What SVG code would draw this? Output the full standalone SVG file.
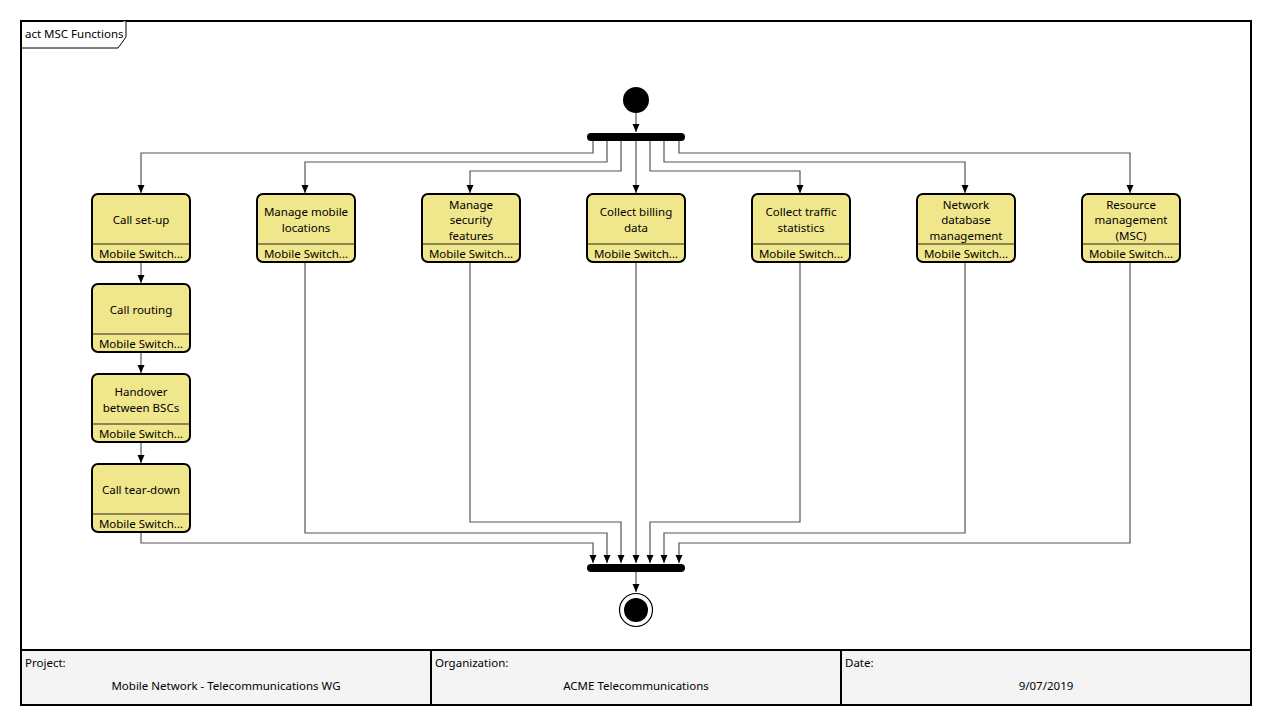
<svg xmlns="http://www.w3.org/2000/svg" width="1272" height="725" viewBox="0 0 1272 725">
  <style>
    text { font-family: "Noto Sans", "Open Sans", sans-serif; font-size: 11.5px; fill: #000; }
    .c { text-anchor: middle; }
    .node rect.box { fill: #f0e68c; stroke: #000; stroke-width: 2; }
    .node line { stroke: #6b6440; stroke-width: 1.5; }
    .edge { fill: none; stroke: #555; stroke-width: 1.2; }
    .bar { fill: #000; }
    .frame { fill: none; stroke: #000; stroke-width: 2; }
    .foot { fill: #f4f4f4; stroke: #000; stroke-width: 2; }
  </style>
  <defs>
    <marker id="arrow" viewBox="0 0 8 8" refX="8" refY="4" markerWidth="8" markerHeight="8" markerUnits="userSpaceOnUse" orient="auto">
      <path d="M0,0.5 L8,4 L0,7.5 Z" fill="#000"/>
    </marker>
  </defs>

  <rect width="1272" height="725" fill="#fff"/>

  <!-- diagram frame -->
  <rect class="frame" x="21" y="21" width="1230" height="684"/>
  <path d="M21,48 L118,48 L126,37 L126,21" fill="#fff" stroke="#000" stroke-width="1"/>
  <text x="25" y="38">act MSC Functions</text>

  <!-- footer -->
  <g id="footer">
    <rect class="foot" x="21" y="650" width="410" height="55"/>
    <rect class="foot" x="431" y="650" width="410" height="55"/>
    <rect class="foot" x="841" y="650" width="410" height="55"/>
    <text x="25" y="667">Project:</text>
    <text class="c" x="226" y="690">Mobile Network - Telecommunications WG</text>
    <text x="435" y="667">Organization:</text>
    <text class="c" x="636" y="690">ACME Telecommunications</text>
    <text x="845" y="667">Date:</text>
    <text class="c" x="1046" y="690">9/07/2019</text>
  </g>

  <!-- connectors -->
  <g id="connectors">
    <path class="edge" d="M636,113 L636,132" marker-end="url(#arrow)"/>
    <!-- fork outputs -->
    <path class="edge" d="M593,141 L593,153 L141,153 L141,193" marker-end="url(#arrow)"/>
    <path class="edge" d="M607,141 L607,162 L305,162 L305,193" marker-end="url(#arrow)"/>
    <path class="edge" d="M621,141 L621,171 L470,171 L470,193" marker-end="url(#arrow)"/>
    <path class="edge" d="M636,141 L636,193" marker-end="url(#arrow)"/>
    <path class="edge" d="M650,141 L650,171 L800,171 L800,193" marker-end="url(#arrow)"/>
    <path class="edge" d="M664,141 L664,162 L965,162 L965,193" marker-end="url(#arrow)"/>
    <path class="edge" d="M679,141 L679,153 L1130,153 L1130,193" marker-end="url(#arrow)"/>
    <!-- sequential chain -->
    <path class="edge" d="M141,263 L141,283" marker-end="url(#arrow)"/>
    <path class="edge" d="M141,353 L141,373" marker-end="url(#arrow)"/>
    <path class="edge" d="M141,443 L141,463" marker-end="url(#arrow)"/>
    <!-- join inputs -->
    <path class="edge" d="M141,533 L141,543 L593,543 L593,563" marker-end="url(#arrow)"/>
    <path class="edge" d="M305,263 L305,533 L607,533 L607,563" marker-end="url(#arrow)"/>
    <path class="edge" d="M470,263 L470,522 L621,522 L621,563" marker-end="url(#arrow)"/>
    <path class="edge" d="M636,263 L636,563" marker-end="url(#arrow)"/>
    <path class="edge" d="M800,263 L800,522 L650,522 L650,563" marker-end="url(#arrow)"/>
    <path class="edge" d="M965,263 L965,533 L664,533 L664,563" marker-end="url(#arrow)"/>
    <path class="edge" d="M1130,263 L1130,543 L679,543 L679,563" marker-end="url(#arrow)"/>
    <path class="edge" d="M636,572 L636,592" marker-end="url(#arrow)"/>
  </g>

  <!-- control nodes -->
  <g id="initial"><circle cx="636" cy="100" r="13" fill="#000"/></g>
  <g id="fork"><rect class="bar" x="587" y="133" width="98" height="8" rx="4"/></g>
  <g id="join"><rect class="bar" x="587" y="564" width="98" height="8" rx="4"/></g>
  <g id="final">
    <circle cx="636" cy="610" r="16.5" fill="#fff" stroke="#000" stroke-width="1.2"/>
    <circle cx="636" cy="610" r="12" fill="#000"/>
  </g>

  <!-- actions -->
  <g id="call-setup" class="node">
    <rect class="box" x="92" y="194" width="98" height="68" rx="6"/>
    <line x1="93" y1="244" x2="189" y2="244"/>
    <text class="c" x="141" y="224">Call set-up</text>
    <text class="c" x="141" y="258">Mobile Switch...</text>
  </g>
  <g id="call-routing" class="node">
    <rect class="box" x="92" y="284" width="98" height="68" rx="6"/>
    <line x1="93" y1="334" x2="189" y2="334"/>
    <text class="c" x="141" y="314">Call routing</text>
    <text class="c" x="141" y="348">Mobile Switch...</text>
  </g>
  <g id="handover" class="node">
    <rect class="box" x="92" y="374" width="98" height="68" rx="6"/>
    <line x1="93" y1="424" x2="189" y2="424"/>
    <text class="c" x="141" y="396">Handover</text>
    <text class="c" x="141" y="412">between BSCs</text>
    <text class="c" x="141" y="438">Mobile Switch...</text>
  </g>
  <g id="call-teardown" class="node">
    <rect class="box" x="92" y="464" width="98" height="68" rx="6"/>
    <line x1="93" y1="514" x2="189" y2="514"/>
    <text class="c" x="141" y="494">Call tear-down</text>
    <text class="c" x="141" y="528">Mobile Switch...</text>
  </g>
  <g id="mobile-locations" class="node">
    <rect class="box" x="257" y="194" width="98" height="68" rx="6"/>
    <line x1="258" y1="244" x2="354" y2="244"/>
    <text class="c" x="306" y="216">Manage mobile</text>
    <text class="c" x="306" y="232">locations</text>
    <text class="c" x="306" y="258">Mobile Switch...</text>
  </g>
  <g id="security" class="node">
    <rect class="box" x="422" y="194" width="98" height="68" rx="6"/>
    <line x1="423" y1="244" x2="519" y2="244"/>
    <text class="c" x="471" y="209">Manage</text>
    <text class="c" x="471" y="224">security</text>
    <text class="c" x="471" y="240">features</text>
    <text class="c" x="471" y="258">Mobile Switch...</text>
  </g>
  <g id="billing" class="node">
    <rect class="box" x="587" y="194" width="98" height="68" rx="6"/>
    <line x1="588" y1="244" x2="684" y2="244"/>
    <text class="c" x="636" y="216">Collect billing</text>
    <text class="c" x="636" y="232">data</text>
    <text class="c" x="636" y="258">Mobile Switch...</text>
  </g>
  <g id="traffic" class="node">
    <rect class="box" x="752" y="194" width="98" height="68" rx="6"/>
    <line x1="753" y1="244" x2="849" y2="244"/>
    <text class="c" x="801" y="216">Collect traffic</text>
    <text class="c" x="801" y="232">statistics</text>
    <text class="c" x="801" y="258">Mobile Switch...</text>
  </g>
  <g id="database" class="node">
    <rect class="box" x="917" y="194" width="98" height="68" rx="6"/>
    <line x1="918" y1="244" x2="1014" y2="244"/>
    <text class="c" x="966" y="209">Network</text>
    <text class="c" x="966" y="224">database</text>
    <text class="c" x="966" y="240">management</text>
    <text class="c" x="966" y="258">Mobile Switch...</text>
  </g>
  <g id="resource" class="node">
    <rect class="box" x="1082" y="194" width="98" height="68" rx="6"/>
    <line x1="1083" y1="244" x2="1179" y2="244"/>
    <text class="c" x="1131" y="209">Resource</text>
    <text class="c" x="1131" y="224">management</text>
    <text class="c" x="1131" y="240">(MSC)</text>
    <text class="c" x="1131" y="258">Mobile Switch...</text>
  </g>
</svg>
